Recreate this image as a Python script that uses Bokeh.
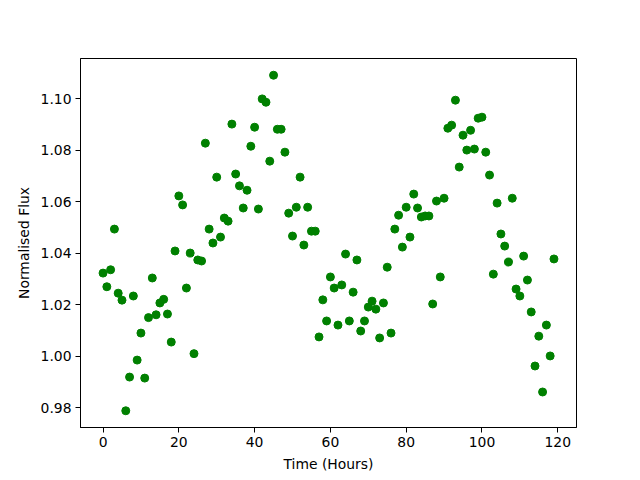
from bokeh.plotting import figure
from bokeh.embed import file_html
from bokeh.resources import INLINE
from bokeh.models import FixedTicker, NumeralTickFormatter, Range1d

hours = list(range(120))
flux = [
    1.0323, 1.0270, 1.0336, 1.0494, 1.0245, 1.0218, 0.9788, 0.9919, 1.0234, 0.9985,
    1.0090, 0.9915, 1.0150, 1.0304, 1.0161, 1.0207, 1.0221, 1.0164, 1.0055, 1.0409,
    1.0623, 1.0588, 1.0265, 1.0401, 1.0010, 1.0374, 1.0370, 1.0828, 1.0494, 1.0440,
    1.0696, 1.0463, 1.0537, 1.0525, 1.0902, 1.0708, 1.0662, 1.0576, 1.0645, 1.0816,
    1.0890, 1.0572, 1.1000, 1.0987, 1.0758, 1.1092, 1.0882, 1.0882, 1.0793, 1.0556,
    1.0467, 1.0579, 1.0696, 1.0432, 1.0579, 1.0486, 1.0486, 1.0075, 1.0219, 1.0137,
    1.0308, 1.0265, 1.0121, 1.0277, 1.0397, 1.0137, 1.0249, 1.0374, 1.0098, 1.0137,
    1.0191, 1.0214, 1.0183, 1.0071, 1.0207, 1.0346, 1.0090, 1.0494, 1.0548, 1.0424,
    1.0579, 1.0463, 1.0630, 1.0576, 1.0541, 1.0545, 1.0545, 1.0203, 1.0603, 1.0308,
    1.0614, 1.0886, 1.0898, 1.0995, 1.0735, 1.0859, 1.0801, 1.0878, 1.0805, 1.0925,
    1.0929, 1.0793, 1.0704, 1.0319, 1.0595, 1.0475, 1.0428, 1.0366, 1.0614, 1.0261,
    1.0234, 1.0389, 1.0296, 1.0172, 0.9962, 1.0078, 0.9861, 1.0121, 1.0001, 1.0378,
]
x_ticks = [0, 20, 40, 60, 80, 100, 120]
y_ticks = [0.98, 1.00, 1.02, 1.04, 1.06, 1.08, 1.10]

p = figure(width=640, height=480, output_backend="svg", toolbar_location=None,
           x_range=Range1d(-5.95, 124.95), y_range=Range1d(0.9723, 1.1157),
           min_border_left=80, min_border_right=64, min_border_top=58, min_border_bottom=53)
p.scatter(hours, flux, size=8, color="#008000", line_color="#008000")

p.xgrid.visible = False
p.ygrid.visible = False
p.outline_line_color = "black"
p.outline_line_width = 1
p.background_fill_color = "white"
p.border_fill_color = "white"

p.xaxis.ticker = FixedTicker(ticks=x_ticks)
p.yaxis.ticker = FixedTicker(ticks=y_ticks)
p.yaxis.formatter = NumeralTickFormatter(format="0.00")
p.xaxis.axis_label = "Time (Hours)"
p.yaxis.axis_label = "Normalised Flux"
for ax in (p.xaxis, p.yaxis):
    ax.major_tick_in = 0
    ax.major_tick_out = 5
    ax.minor_tick_line_color = None
    ax.axis_line_color = "black"
    ax.major_tick_line_color = "black"
    ax.major_label_text_font = "DejaVu Sans"
    ax.major_label_text_font_size = "13.9px"
    ax.major_label_text_color = "black"
    ax.axis_label_text_font = "DejaVu Sans"
    ax.axis_label_text_font_size = "13.9px"
    ax.axis_label_text_font_style = "normal"
    ax.axis_label_text_color = "black"
    ax.major_label_standoff = 4
    ax.axis_label_standoff = 6

open("out.html", "w").write(file_html(p, INLINE))
